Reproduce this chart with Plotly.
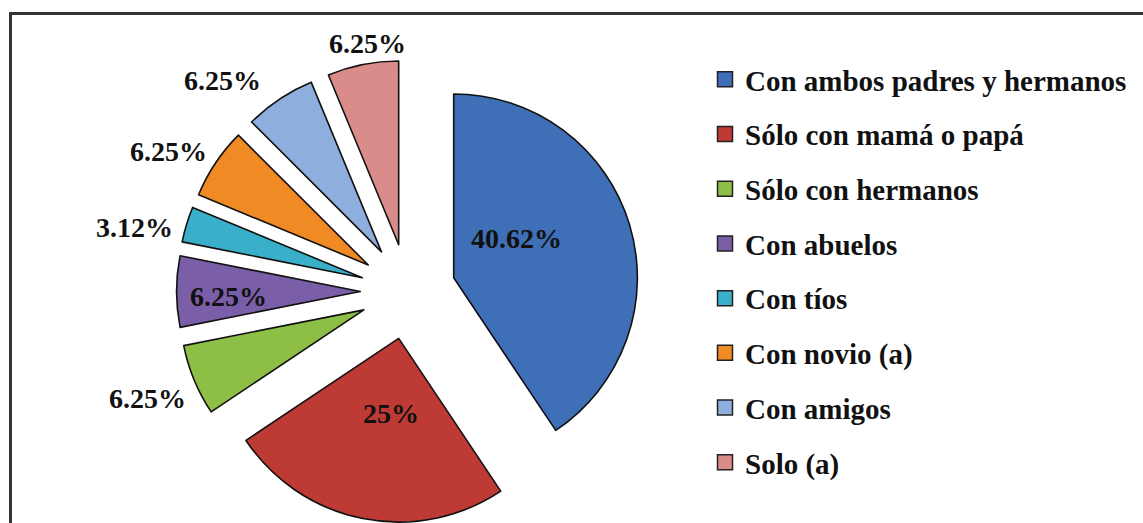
import math
import plotly.graph_objects as go

# ---- data ----
categorias = [
    "Con ambos padres y hermanos",
    "Sólo con mamá o papá",
    "Sólo con hermanos",
    "Con abuelos",
    "Con tíos",
    "Con novio (a)",
    "Con amigos",
    "Solo (a)",
]
porcentajes = [40.62, 25, 6.25, 6.25, 3.12, 6.25, 6.25, 6.25]

# ---- styling ----
colores = ["#3F6FB7", "#BE3A34", "#8DBE46", "#7B5EA8",
           "#3AAFC9", "#F08A24", "#8EAEDD", "#DA8C8B"]
# label placement: distance beyond the pulled apex (in radii) and angular nudge (deg)
label_radio = [0.40, 0.41, 1.27, 0.72, 1.27, 1.25, 1.27, 1.11]
label_giro = [-9.2, -3.4, 0.2, -1.6, -3.7, -3.3, -7.5, 2.0]

W, H = 1143, 523
PULL = 0.26
CX = 408                       # pie centre, px from left
S = 0.885 * H                  # square pie domain size, px
dom_x = [(CX - S / 2) / W, (CX + S / 2) / W]
dom_y = [0.0, 0.885]

FONT = "Liberation Serif, Times New Roman, serif"

fig = go.Figure()
fig.add_trace(go.Pie(
    labels=categorias,
    values=porcentajes,
    sort=False,
    direction="clockwise",
    rotation=0,
    pull=[PULL] * len(porcentajes),
    marker=dict(colors=colores, line=dict(color="#111111", width=1.6)),
    textinfo="none",
    hoverinfo="label+percent",
    showlegend=False,
    domain=dict(x=dom_x, y=dom_y),
))

# legend entries (one group each so they can be spaced apart)
for nombre, col in zip(categorias, colores):
    fig.add_trace(go.Scatter(
        x=[None], y=[None], mode="markers", name=nombre,
        legendgroup=nombre,
        marker=dict(symbol="square", size=15, color=col,
                    line=dict(color="#222222", width=1.5)),
        hoverinfo="skip",
    ))

# percentage labels positioned from the slice angles
r = S / (2 + 2 * PULL)
cy = H * (1 - (dom_y[0] + dom_y[1]) / 2)
total = sum(porcentajes)
acum = 0.0
for v, f, g in zip(porcentajes, label_radio, label_giro):
    mid = (acum + v / 2) / total * 360.0
    acum += v
    ang = math.radians(mid + g)
    d = PULL * r + f * r
    px = CX + d * math.sin(ang)
    py = cy - d * math.cos(ang)
    fig.add_annotation(
        x=px / W, y=1 - py / H, xref="paper", yref="paper",
        text=f"{v:g}%", showarrow=False,
        xanchor="center", yanchor="middle",
        font=dict(family=FONT, size=28, color="#111111", weight="bold"),
    )

# chart frame
fig.add_shape(type="rect", xref="paper", yref="paper",
              x0=10.5 / W, x1=1.05, y0=-0.05, y1=1 - 13.5 / H,
              line=dict(color="#333333", width=3))

fig.update_layout(
    width=W, height=H,
    margin=dict(l=0, r=0, t=0, b=0),
    paper_bgcolor="white", plot_bgcolor="white",
    xaxis=dict(visible=False), yaxis=dict(visible=False),
    legend=dict(
        x=705 / W, y=1 - 54 / H, xanchor="left", yanchor="top",
        font=dict(family=FONT, size=29, color="#111111", weight="bold"),
        tracegroupgap=14, bgcolor="rgba(0,0,0,0)",
        itemclick=False, itemdoubleclick=False,
    ),
)

fig.write_html("out.html")
